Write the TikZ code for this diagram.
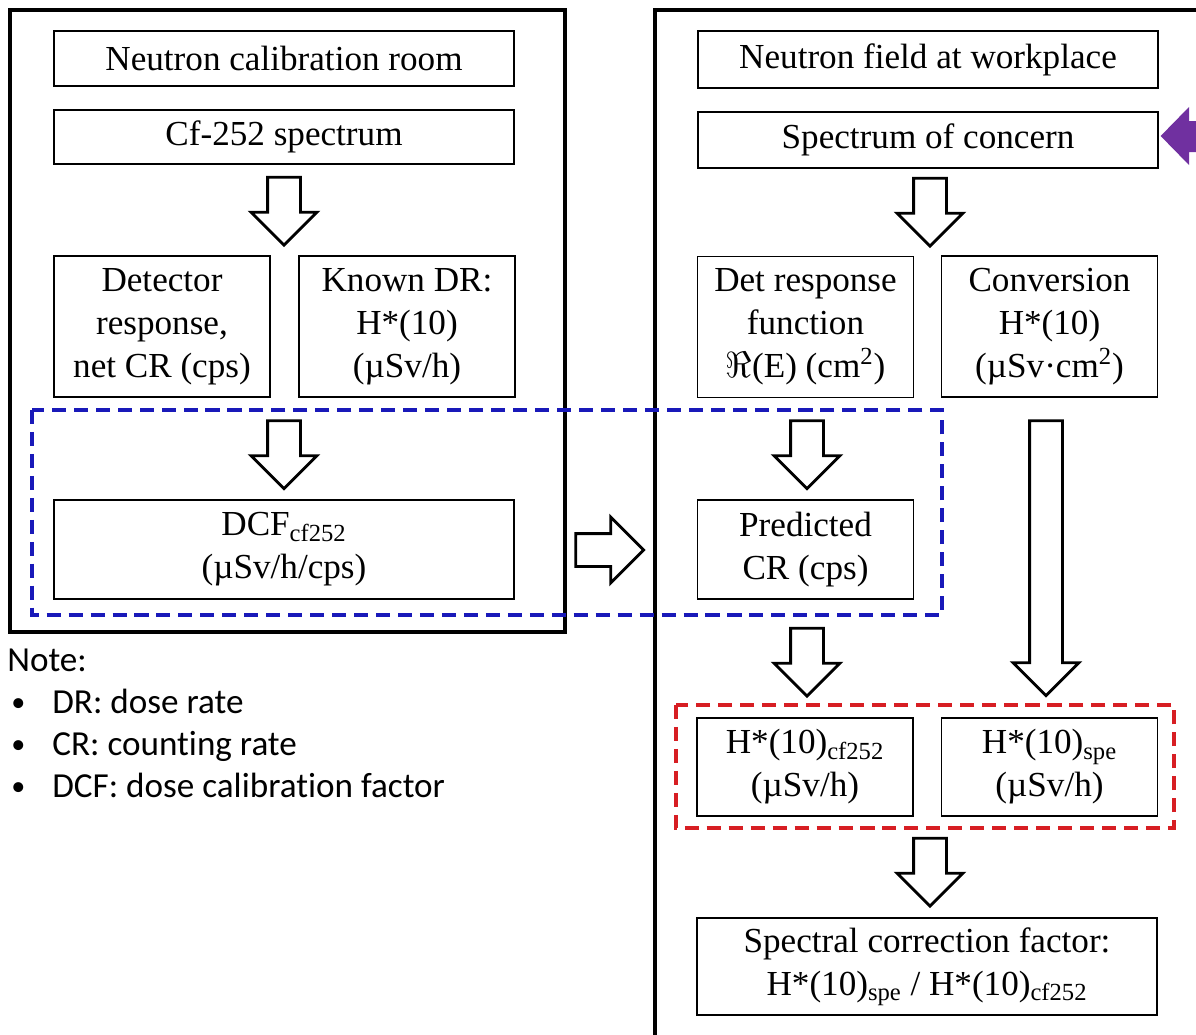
\documentclass[tikz,border=0pt]{standalone}
\usepackage{fontspec}
\setmainfont{Liberation Serif}
\newfontfamily\notefont[Ligatures=NoCommon]{Carlito}
\usetikzlibrary{shapes.arrows,calc}

\definecolor{dashblue}{RGB}{25,25,185}
\definecolor{dashred}{RGB}{215,30,35}
\definecolor{markpurple}{RGB}{112,48,160}

\newcommand{\noteitem}[1]{\makebox[0.9cm][l]{\hspace{0.08cm}\raisebox{0.04cm}{\fontsize{16}{16}\selectfont\textbullet}}#1}

\begin{document}
\begin{tikzpicture}[x=0.02cm,y=-0.02cm,
    box/.style={draw,line width=0.8pt,align=center,inner sep=0pt,
                font=\fontsize{20}{24.5}\selectfont},
    wide box/.style={box,minimum width=9.2cm},
    half box/.style={box,minimum width=4.32cm,minimum height=2.82cm},
    frame/.style={line width=2.4pt},
    blue dash/.style={draw=dashblue,line width=2.4pt,dash pattern=on 8pt off 4.5pt},
    red dash/.style={draw=dashred,line width=2.4pt,dash pattern=on 8pt off 4.5pt},
    hollow/.style={single arrow,draw,line width=1.6pt,inner sep=0.3cm,
                   single arrow head extend=0.33cm,
                   minimum height=1.36cm,shape border rotate=270}]

    \clip (0,0) rectangle (1196,1034);

    % frames
    \draw[frame] (10,10) rectangle (565,632);
    \draw[frame] (655,10) rectangle (1230,1070);

    % calibration room
    \node[wide box,minimum height=1.1cm] (room) at (284,58.5) {Neutron calibration room};
    \node[wide box,minimum height=1.08cm] (cf) at (284,137) {Cf-252 spectrum};
    \node[half box] (det) at (162,326.5) {Detector\\response,\\net CR (cps)};
    \node[half box] (known) at (407,326.5) {Known DR:\\H*(10)\\(µSv/h)};
    \node[wide box,minimum height=1.98cm] (dcf) at (284,549.5)
        {DCF\textsubscript{cf252}\\(µSv/h/cps)};

    % workplace
    \node[wide box,minimum height=1.14cm] (field) at (928,59.5) {Neutron field at workplace};
    \node[wide box,minimum height=1.12cm] (spec) at (928,140) {Spectrum of concern};
    \node[half box] (resp) at (805.5,327) {Det response\\function\\$\Re$(E) (cm\textsuperscript{2})};
    \node[half box] (conv) at (1049.5,326.5) {Conversion\\H*(10)\\(µSv·cm\textsuperscript{2})};
    \node[half box,minimum height=1.98cm] (pred) at (805.5,549.5) {Predicted\\CR (cps)};
    \node[half box,minimum height=1.96cm] (hcf) at (805,767) {H*(10)\textsubscript{cf252}\\(µSv/h)};
    \node[half box,minimum height=1.96cm] (hspe) at (1049.5,767) {H*(10)\textsubscript{spe}\\(µSv/h)};
    \node[wide box,minimum height=1.94cm] (scf) at (927,966.5)
        {Spectral correction factor:\\H*(10)\textsubscript{spe} / H*(10)\textsubscript{cf252}};

    % dashed groups
    \draw[blue dash] (32,410) rectangle (942,615);
    \draw[red dash] (676,705) rectangle (1174,828);

    % block arrows
    \node[hollow] (a1) at (284,203) {};
    \node[hollow] (a2) at (284,446.5) {};
    \node[hollow,shape border rotate=0] (a3) at (601.5,550) {};
    \node[hollow] (a4) at (930,204) {};
    \node[hollow] (a5) at (807,446.5) {};
    \node[hollow] (a6) at (807,654) {};
    \node[hollow,minimum height=5.5cm] (a7) at (1046,550) {};
    \node[hollow] (a8) at (930,864) {};

    % marker
    \fill[markpurple] (spec.east) ++(2,-4) -- (1189,107) -- (1189,121) -- (1210,121)
        -- (1210,152) -- (1189,152) -- (1189,165) -- cycle;

    % note
    \node[anchor=north west,align=left,inner sep=0pt,
          font=\notefont\fontsize{20}{42\dimexpr0.02cm\relax}\selectfont] (note) at (7,649)
        {Note:\\\noteitem{DR: dose rate}\\\noteitem{CR: counting rate}\\
         \noteitem{DCF: dose calibration factor}};
\end{tikzpicture}
\end{document}
